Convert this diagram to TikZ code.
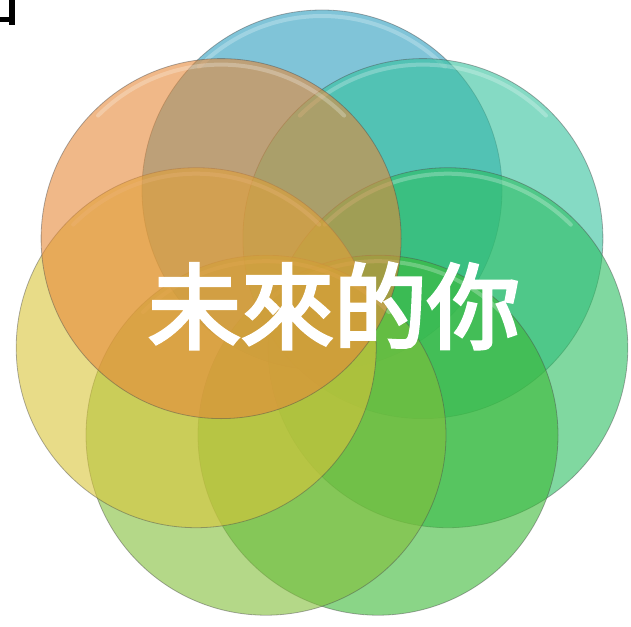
\documentclass[tikz,border=0pt]{standalone}
\usepackage{fontspec}
\newfontfamily\cjkb{Noto Sans CJK TC}[FakeBold=3.5]
\definecolor{blueC}{RGB}{43,157,190}
\definecolor{tealC}{RGB}{52,193,157}
\definecolor{greenC}{RGB}{43,190,97}
\definecolor{greenBC}{RGB}{60,185,55}
\definecolor{lgreenC}{RGB}{130,190,57}
\definecolor{yellowC}{RGB}{217,197,57}
\definecolor{peachC}{RGB}{230,137,57}
\tikzset{
  petal/.style={circle, minimum size=360pt, inner sep=0pt, fill opacity=0.6,
    draw=black!70, draw opacity=0.45, line width=0.8pt},
  gloss/.style={white, line width=4pt, opacity=0.25, line cap=round},
  title/.style={text=white, font=\cjkb\fontsize{93}{93}\selectfont, inner sep=0pt}
}
\begin{document}
\begin{tikzpicture}[x=1pt,y=-1pt]
\useasboundingbox (0,0) rectangle (631,626);
\foreach \n/\px/\py/\c in {cblue/322/190/blueC, cteal/422.9/238.6/tealC, cgreen/447.8/347.7/greenC,
  cgreenb/378.0/435.2/greenBC, clgreen/266.0/435.2/lgreenC, cyellow/196.2/347.7/yellowC,
  cpeach/221.1/238.6/peachC}{
  \node[petal, fill=\c] (\n) at (\px,\py) {};
  \draw[gloss] ([shift={(\px,\py)}]-45:174) arc[start angle=-45, end angle=-135, radius=174];
}
\node[title] (t) at (334,306) {未來的你};
\fill (9,0) rectangle (15,25);
\fill (0,17) rectangle (15,22);
\end{tikzpicture}
\end{document}
